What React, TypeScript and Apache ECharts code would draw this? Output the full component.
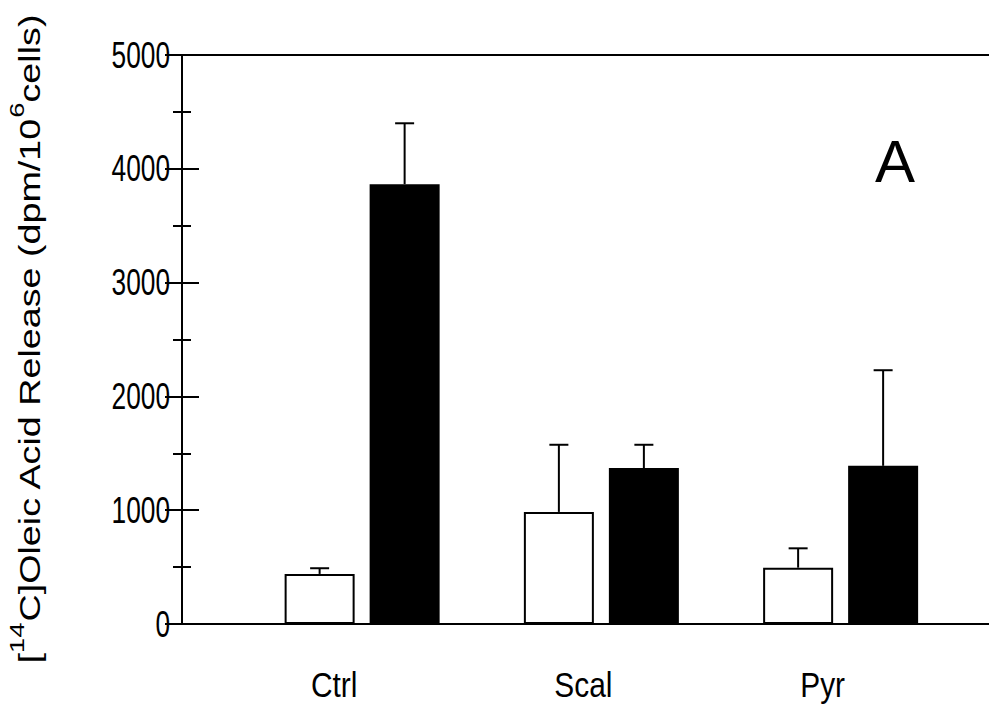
import React, { useEffect, useRef } from 'react';
import * as echarts from 'echarts';

// ---- data ----
const categories = ['Ctrl', 'Scal', 'Pyr'];
const openMeans = [440, 985, 495];
const openErrors = [50, 590, 170];
const filledMeans = [3865, 1370, 1390];
const filledErrors = [535, 205, 840];
const yTicks = [0, 1000, 2000, 3000, 4000, 5000];
const yMin = 0;
const yMax = 5000;
const yInterval = 1000;
const panelLabel = 'A';
const yTitle = '[{sup|14}C]Oleic Acid Release (dpm/10{sup|6}cells)';

// ---- layout / style ----
const W = 989;
const H = 706;
const FRAME = { left: 182, top: 55, width: 814, height: 569 };
const BARS = { left: 242.5, width: 717.75 };
const BAR_W = 70;
const BAR_GAP_PX = 15;
const CAP_W = 19;
const LW = 2;
const REG = '"Liberation Sans", Arial, sans-serif';
const TICK_FS = 36;
const TICK_SX = 0.73;
const TICK_RIGHT = 170;
const CAT_FS = 36;
const CAT_SX = 0.83;
const CAT_Y = 684;
const CAT_DX = [-28, -18, -18];

export default function App() {
  const ref = useRef<HTMLDivElement>(null);
  useEffect(() => {
    if (!ref.current) return;
    const chart = echarts.init(ref.current, undefined, { renderer: 'svg' });

    const errData = (means: number[], errs: number[], side: number) =>
      categories.map((_, i) => [i, means[i], means[i] + errs[i], side]);

    const renderErr = (params: any, api: any) => {
      const i = api.value(0);
      const base = api.coord([i, api.value(1)]);
      const top = api.coord([i, api.value(2)]);
      const x = base[0] + api.value(3) * (BAR_W + BAR_GAP_PX) / 2;
      return {
        type: 'group',
        children: [
          { type: 'line', shape: { x1: x, y1: base[1], x2: x, y2: top[1] }, style: { stroke: '#000', lineWidth: LW } },
          { type: 'line', shape: { x1: x - CAP_W / 2, y1: top[1], x2: x + CAP_W / 2, y2: top[1] }, style: { stroke: '#000', lineWidth: LW } },
        ],
      };
    };

    const yCommon = {
      min: yMin,
      max: yMax,
      interval: yInterval,
      axisLine: { show: true, lineStyle: { color: '#000', width: LW } },
      axisTick: { show: true, inside: true, length: 17, lineStyle: { color: '#000', width: LW } },
      minorTick: { show: true, splitNumber: 2, length: 9, lineStyle: { color: '#000', width: LW } },
      splitLine: { show: false },
      axisLabel: { show: false },
    };

    chart.setOption({
      animation: false,
      backgroundColor: '#fff',
      grid: [
        { left: FRAME.left, top: FRAME.top, width: FRAME.width, height: FRAME.height },
        { left: BARS.left, top: FRAME.top, width: BARS.width, height: FRAME.height },
      ],
      xAxis: [
        {
          gridIndex: 0, type: 'value', min: 0, max: 1, position: 'bottom',
          axisLine: { show: true, onZero: false, lineStyle: { color: '#000', width: LW } },
          axisTick: { show: false }, axisLabel: { show: false }, splitLine: { show: false },
        },
        {
          gridIndex: 1, type: 'category', data: categories,
          axisLine: { show: false }, axisTick: { show: false }, splitLine: { show: false },
          axisLabel: { show: false },
        },
        {
          gridIndex: 0, type: 'value', min: 0, max: 1, position: 'top',
          axisLine: { show: true, onZero: false, lineStyle: { color: '#000', width: LW } },
          axisTick: { show: false }, axisLabel: { show: false }, splitLine: { show: false },
        },
      ],
      yAxis: [
        { gridIndex: 0, type: 'value', position: 'left', ...yCommon },
        { gridIndex: 0, type: 'value', position: 'right', ...yCommon },
        { gridIndex: 1, type: 'value', min: yMin, max: yMax, show: false },
      ],
      series: [
        {
          name: 'open', type: 'bar', xAxisIndex: 1, yAxisIndex: 2, data: openMeans,
          barWidth: BAR_W, barGap: `${(BAR_GAP_PX / BAR_W) * 100}%`, z: 3,
          itemStyle: { color: '#fff', borderColor: '#000', borderWidth: LW },
        },
        {
          name: 'filled', type: 'bar', xAxisIndex: 1, yAxisIndex: 2, data: filledMeans,
          barWidth: BAR_W, barGap: `${(BAR_GAP_PX / BAR_W) * 100}%`, z: 3,
          itemStyle: { color: '#000', borderColor: '#000', borderWidth: LW },
        },
        {
          type: 'custom', xAxisIndex: 1, yAxisIndex: 2, z: 2,
          data: errData(openMeans, openErrors, -1), renderItem: renderErr,
        },
        {
          type: 'custom', xAxisIndex: 1, yAxisIndex: 2, z: 2,
          data: errData(filledMeans, filledErrors, 1), renderItem: renderErr,
        },
      ],
    });

    // tick labels and category labels, positioned through the axes' own scales
    const tickTexts = yTicks.map((v) => ({
      type: 'text',
      x: TICK_RIGHT,
      y: chart.convertToPixel({ yAxisIndex: 0 }, v) as number,
      scaleX: TICK_SX,
      z: 10,
      style: { text: String(v), fill: '#000', fontFamily: REG, fontSize: TICK_FS, align: 'right', verticalAlign: 'middle' },
    }));
    const catTexts = categories.map((c, i) => ({
      type: 'text',
      x: (chart.convertToPixel({ xAxisIndex: 1 }, i) as number) + CAT_DX[i],
      y: CAT_Y,
      scaleX: CAT_SX,
      z: 10,
      style: { text: c, fill: '#000', fontFamily: REG, fontSize: CAT_FS, align: 'center', verticalAlign: 'middle' },
    }));

    chart.setOption({
      graphic: [
        ...tickTexts,
        ...catTexts,
        {
          type: 'text', x: 895, y: 161, z: 10,
          style: { text: panelLabel, fill: '#000', fontFamily: REG, fontSize: 60, align: 'center', verticalAlign: 'middle' },
        },
        {
          type: 'text', x: 30, y: 339, rotation: Math.PI / 2, scaleX: 1.3, z: 10,
          style: {
            text: yTitle, fill: '#000', fontFamily: REG, fontSize: 29, align: 'center', verticalAlign: 'middle',
            rich: {
              sup: { fontFamily: REG, fontSize: 21, fill: '#000', padding: [0, 0, 27, 0] },
            },
          },
        },
      ],
    });
    return () => chart.dispose();
  }, []);
  return <div ref={ref} style={{ position: 'fixed', left: 0, top: 0, width: W, height: H, background: '#fff' }} />;
}
